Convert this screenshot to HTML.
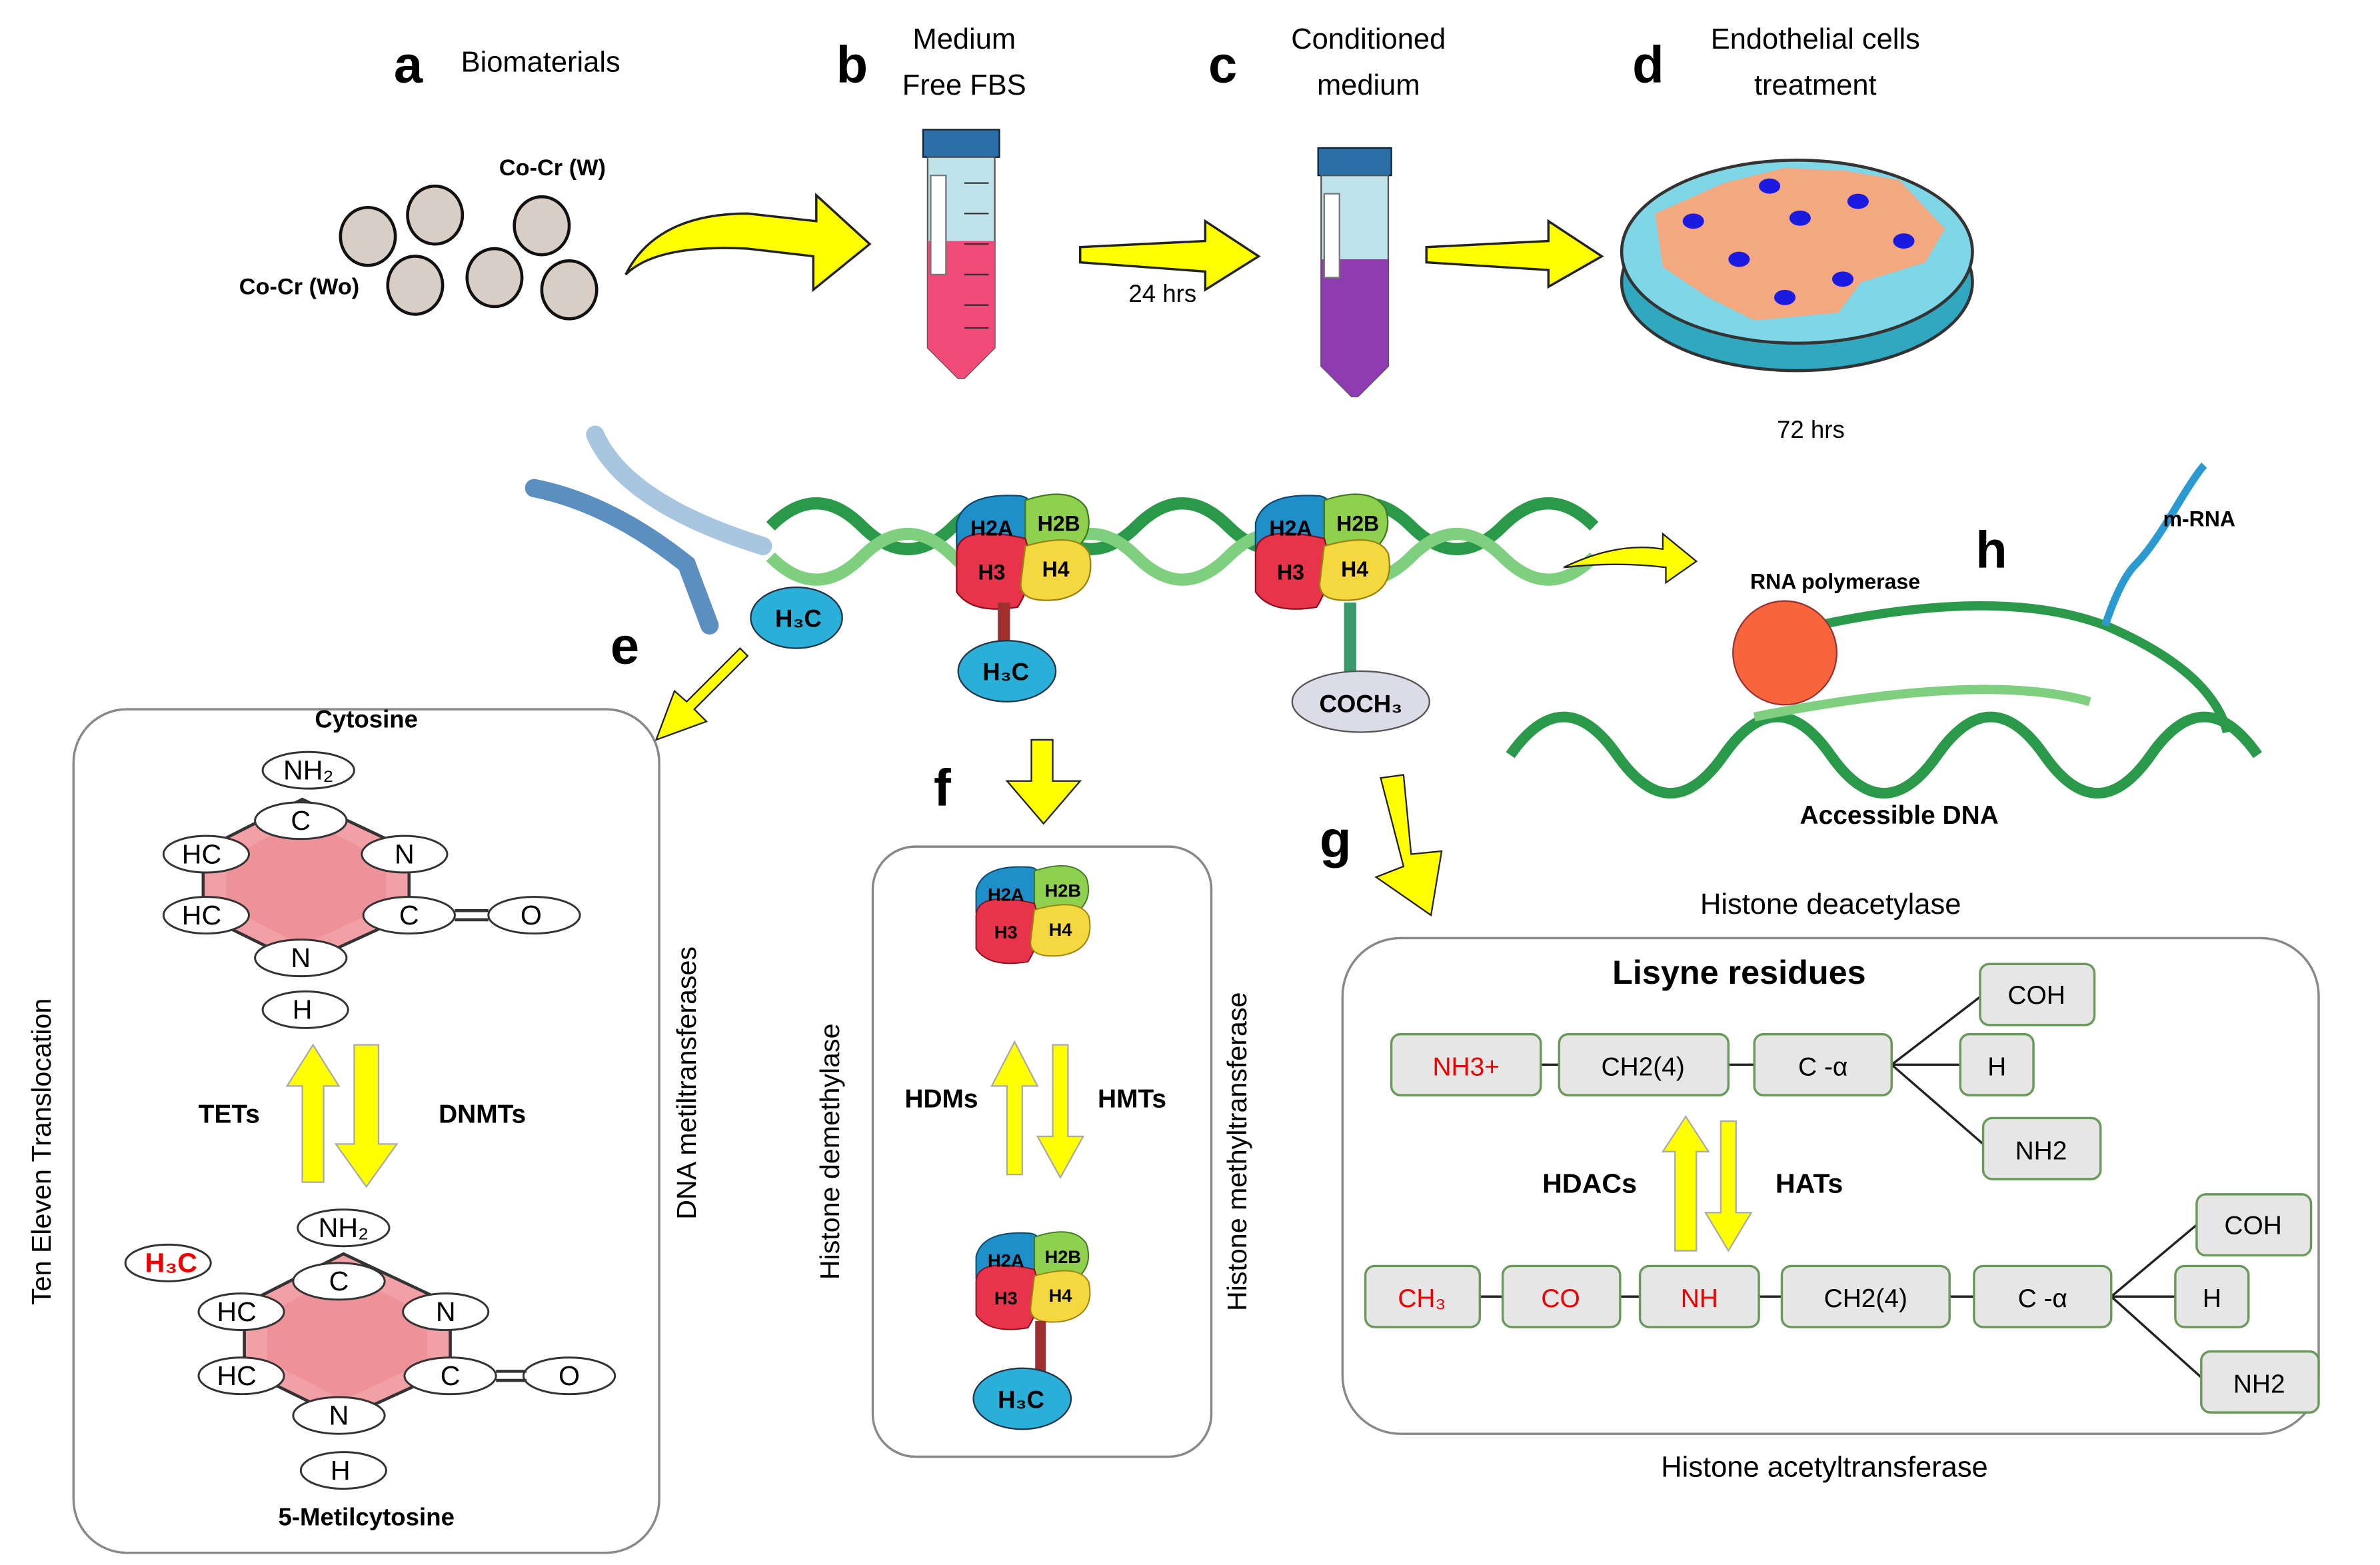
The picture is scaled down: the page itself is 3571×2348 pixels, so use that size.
<!DOCTYPE html>
<html><head><meta charset="utf-8"><style>
html,body{margin:0;padding:0;background:#fff}
svg{display:block}
text{font-family:"Liberation Sans",sans-serif}
</style></head><body>
<svg width="3571" height="2348" viewBox="0 0 1560 1026" xmlns="http://www.w3.org/2000/svg">
<defs>
<linearGradient id="yl" x1="0" x2="0" y1="0" y2="1"><stop offset="0" stop-color="#ffff00"/><stop offset="1" stop-color="#eeee00"/></linearGradient>
<g id="nuc">
<path d="M-45,-25 q5,-20 40,-18 q15,0 10,30 l-50,5z" fill="#1e8fc8" stroke="#0a4a70"/>
<path d="M0,-40 q30,-10 40,5 q5,15 -5,25 l-35,0z" fill="#8fd14f" stroke="#3f7a20"/>
<path d="M-45,-5 q0,-20 45,-10 q8,25 -5,45 q-30,5 -40,-10z" fill="#e8344a" stroke="#8a1020"/>
<path d="M0,-10 q35,-10 42,5 q5,25 -20,30 q-25,3 -25,-10z" fill="#f5d840" stroke="#9a8410"/>
<text x="-22" y="-17" font-size="14" font-weight="bold" text-anchor="middle">H2A</text>
<text x="22" y="-20" font-size="14" font-weight="bold" text-anchor="middle">H2B</text>
<text x="-22" y="12" font-size="14" font-weight="bold" text-anchor="middle">H3</text>
<text x="20" y="10" font-size="14" font-weight="bold" text-anchor="middle">H4</text>
</g>
<g id="ring">
<polygon points="0,-48 70,-15 70,28 0,60 -65,28 -65,-15" fill="#f2a0a6" stroke="#333" stroke-width="2"/>
<polygon points="0,-36 55,-8 55,22 0,48 -50,22 -50,-8" fill="#ec8c94" opacity="0.7"/>
</g>
</defs>

<!-- top labels -->
<text x="258" y="54" font-size="34" font-weight="bold">a</text>
<text x="302" y="47" font-size="19">Biomaterials</text>
<text x="548" y="54" font-size="34" font-weight="bold">b</text>
<text x="632" y="32" font-size="19" text-anchor="middle">Medium</text>
<text x="632" y="62" font-size="19" text-anchor="middle">Free FBS</text>
<text x="792" y="54" font-size="34" font-weight="bold">c</text>
<text x="897" y="32" font-size="19" text-anchor="middle">Conditioned</text>
<text x="897" y="62" font-size="19" text-anchor="middle">medium</text>
<text x="1070" y="54" font-size="34" font-weight="bold">d</text>
<text x="1190" y="32" font-size="19" text-anchor="middle">Endothelial cells</text>
<text x="1190" y="62" font-size="19" text-anchor="middle">treatment</text>

<text x="362" y="115" font-size="15" font-weight="bold" text-anchor="middle">Co-Cr (W)</text>
<text x="196" y="193" font-size="15" font-weight="bold" text-anchor="middle">Co-Cr (Wo)</text>
<g fill="#d8cec6" stroke="#111" stroke-width="2">
<ellipse cx="241" cy="155" rx="18" ry="19"/><ellipse cx="285" cy="141" rx="18" ry="19"/>
<ellipse cx="355" cy="148" rx="18" ry="19"/><ellipse cx="272" cy="187" rx="18" ry="19"/>
<ellipse cx="324" cy="182" rx="18" ry="19"/><ellipse cx="373" cy="190" rx="18" ry="19"/>
</g>
<path d="M410,180 Q430,140 490,140 L535,145 L535,128 L570,160 L533,190 L533,168 L490,163 Q430,160 410,180z" fill="#ffff00" stroke="#222" stroke-width="1.5"/>

<!-- tube b -->
<rect x="605" y="85" width="50" height="18" fill="#2a6fa8" stroke="#123"/>
<path d="M608,103 L652,103 L652,228 L632,248 L628,248 L608,228z" fill="#bfe3ea" stroke="#555"/>
<path d="M608,158 L652,158 L652,228 L632,248 L628,248 L608,228z" fill="#f04a78"/>
<rect x="610" y="115" width="10" height="65" fill="#fff" stroke="#777"/>
<g stroke="#333" stroke-width="1"><line x1="632" y1="120" x2="648" y2="120"/><line x1="632" y1="140" x2="648" y2="140"/><line x1="632" y1="160" x2="648" y2="160"/><line x1="632" y1="180" x2="648" y2="180"/><line x1="632" y1="200" x2="648" y2="200"/><line x1="632" y1="215" x2="648" y2="215"/></g>

<polygon points="708,162 790,158 790,145 825,168 790,190 790,178 708,172" fill="#ffff00" stroke="#222" stroke-width="1.5"/>
<text x="762" y="198" font-size="16" text-anchor="middle">24 hrs</text>

<!-- tube c -->
<rect x="864" y="97" width="48" height="18" fill="#2a6fa8" stroke="#123"/>
<path d="M866,115 L910,115 L910,240 L890,260 L886,260 L866,240z" fill="#bfe3ea" stroke="#555"/>
<path d="M866,170 L910,170 L910,240 L890,260 L886,260 L866,240z" fill="#8e3db0"/>
<rect x="868" y="127" width="10" height="55" fill="#fff" stroke="#777"/>

<polygon points="935,162 1015,158 1015,145 1050,168 1015,188 1015,177 935,172" fill="#ffff00" stroke="#222" stroke-width="1.5"/>

<!-- petri -->
<ellipse cx="1178" cy="185" rx="115" ry="58" fill="#2fa8c0" stroke="#333" stroke-width="2"/>
<ellipse cx="1178" cy="165" rx="115" ry="60" fill="#7fd6e6" stroke="#333" stroke-width="2"/>
<path d="M1085,140 L1130,120 L1170,110 L1210,112 L1245,118 L1275,150 L1262,172 L1220,185 L1205,205 L1150,210 L1120,195 L1090,175z" fill="#f4a880"/>
<g fill="#1a1ae0"><ellipse cx="1110" cy="145" rx="7" ry="5"/><ellipse cx="1160" cy="122" rx="7" ry="5"/><ellipse cx="1218" cy="132" rx="7" ry="5"/><ellipse cx="1180" cy="143" rx="7" ry="5"/><ellipse cx="1140" cy="170" rx="7" ry="5"/><ellipse cx="1208" cy="183" rx="7" ry="5"/><ellipse cx="1248" cy="158" rx="7" ry="5"/><ellipse cx="1170" cy="195" rx="7" ry="5"/></g>
<text x="1187" y="287" font-size="16" text-anchor="middle">72 hrs</text>

<!-- chromosome -->
<path d="M350,320 Q400,330 450,370 L465,410" stroke="#5b8fbf" stroke-width="12" fill="none" stroke-linecap="round"/>
<path d="M390,285 Q410,330 500,358" stroke="#a8c6e0" stroke-width="12" fill="none" stroke-linecap="round"/>

<!-- DNA helix -->
<path d="M505,345 q30,-30 60,0 t60,0 t60,0 t60,0 t60,0 t60,0 t60,0 t60,0 t60,0" stroke="#2a9a4a" stroke-width="8" fill="none"/>
<path d="M505,365 q30,30 60,0 t60,0 t60,0 t60,0 t60,0 t60,0 t60,0 t60,0 t60,0" stroke="#7ed07e" stroke-width="8" fill="none"/>
<use href="#nuc" x="672" y="368"/>
<use href="#nuc" x="868" y="368"/>
<line x1="658" y1="395" x2="658" y2="425" stroke="#a03030" stroke-width="8"/>
<line x1="885" y1="395" x2="885" y2="445" stroke="#3a9a6a" stroke-width="8"/>
<ellipse cx="522" cy="405" rx="30" ry="20" fill="#2ab0d8" stroke="#234"/>
<text x="508" y="411" font-size="16" font-weight="bold">H₃C</text>
<ellipse cx="660" cy="440" rx="32" ry="20" fill="#2ab0d8" stroke="#234"/>
<text x="644" y="446" font-size="16" font-weight="bold">H₃C</text>
<ellipse cx="892" cy="460" rx="45" ry="20" fill="#dcdce8" stroke="#555"/>
<text x="892" y="467" font-size="16" font-weight="bold" text-anchor="middle">COCH₃</text>

<text x="400" y="435" font-size="34" font-weight="bold">e</text>
<text x="612" y="528" font-size="34" font-weight="bold">f</text>
<text x="865" y="562" font-size="34" font-weight="bold">g</text>
<text x="1295" y="372" font-size="34" font-weight="bold">h</text>

<path d="M1025,372 Q1060,355 1090,360 L1090,350 L1112,368 L1092,382 L1092,372 Q1060,368 1025,372z" fill="#ffff00" stroke="#222"/>

<!-- transcription -->
<path d="M990,495 q35,-50 70,0 t70,0 t70,0 t70,0 t70,0 t70,0 t70,0" stroke="#2a9a4a" stroke-width="7" fill="none"/>
<path d="M1150,420 Q1300,380 1380,410 Q1450,440 1460,480" stroke="#2a9a4a" stroke-width="6" fill="none"/>
<path d="M1150,470 Q1300,440 1370,460" stroke="#7ed07e" stroke-width="6" fill="none"/>
<path d="M1380,410 q10,-30 20,-40 t25,-35 t20,-30" stroke="#2a9ad0" stroke-width="5" fill="none"/>
<circle cx="1170" cy="428" r="34" fill="#f8643c" stroke="#933"/>
<text x="1203" y="386" font-size="14" font-weight="bold" text-anchor="middle">RNA polymerase</text>
<text x="1418" y="345" font-size="14" font-weight="bold">m-RNA</text>
<text x="1245" y="540" font-size="17" font-weight="bold" text-anchor="middle">Accessible DNA</text>

<!-- arrows down -->
<polygon points="490,430 455,465 463,473 430,485 442,453 450,460 485,425" fill="#ffff00" stroke="#222"/>
<polygon points="676,485 690,485 690,512 708,512 684,540 660,512 676,512" fill="#ffff00" stroke="#222"/>
<polygon points="905,510 920,508 925,560 945,558 938,600 902,575 920,568" fill="#ffff00" stroke="#222"/>

<!-- box e -->
<rect x="48" y="465" width="384" height="553" rx="35" fill="none" stroke="#888" stroke-width="1.5"/>
<text x="240" y="477" font-size="16" font-weight="bold" text-anchor="middle">Cytosine</text>
<use href="#ring" x="198" y="572"/>
<g fill="#fff" stroke="#333" stroke-width="1.3">
<ellipse cx="202" cy="505" rx="30" ry="12"/><ellipse cx="197" cy="538" rx="30" ry="12"/>
<ellipse cx="135" cy="560" rx="28" ry="12"/><ellipse cx="265" cy="560" rx="28" ry="12"/>
<ellipse cx="135" cy="600" rx="28" ry="12"/><ellipse cx="268" cy="600" rx="30" ry="12"/>
<ellipse cx="350" cy="600" rx="30" ry="12"/><ellipse cx="197" cy="628" rx="30" ry="12"/>
<ellipse cx="200" cy="662" rx="28" ry="12"/>
</g>
<g font-size="18" text-anchor="middle"><text x="202" y="511">NH₂</text><text x="197" y="544">C</text><text x="132" y="566">HC</text><text x="265" y="566">N</text><text x="132" y="606">HC</text><text x="268" y="606">C</text><text x="348" y="606">O</text><text x="197" y="634">N</text><text x="198" y="668">H</text></g>
<line x1="298" y1="597" x2="320" y2="597" stroke="#333" stroke-width="2"/><line x1="298" y1="603" x2="320" y2="603" stroke="#333" stroke-width="2"/>

<use href="#ring" x="225" y="870"/>
<g fill="#fff" stroke="#333" stroke-width="1.3">
<ellipse cx="225" cy="805" rx="30" ry="12"/><ellipse cx="222" cy="840" rx="30" ry="12"/>
<ellipse cx="110" cy="828" rx="28" ry="12"/>
<ellipse cx="158" cy="860" rx="28" ry="12"/><ellipse cx="292" cy="860" rx="28" ry="12"/>
<ellipse cx="158" cy="902" rx="28" ry="12"/><ellipse cx="295" cy="902" rx="30" ry="12"/>
<ellipse cx="373" cy="902" rx="30" ry="12"/><ellipse cx="222" cy="928" rx="30" ry="12"/>
<ellipse cx="225" cy="964" rx="28" ry="12"/>
</g>
<g font-size="18" text-anchor="middle"><text x="225" y="811">NH₂</text><text x="222" y="846">C</text><text x="112" y="834" fill="#e00" font-weight="bold">H₃C</text><text x="155" y="866">HC</text><text x="292" y="866">N</text><text x="155" y="908">HC</text><text x="295" y="908">C</text><text x="373" y="908">O</text><text x="222" y="934">N</text><text x="223" y="970">H</text></g>
<line x1="325" y1="899" x2="345" y2="899" stroke="#333" stroke-width="2"/><line x1="325" y1="905" x2="345" y2="905" stroke="#333" stroke-width="2"/>
<text x="240" y="1000" font-size="16" font-weight="bold" text-anchor="middle">5-Metilcytosine</text>

<polygon points="205,685 222,712 212,712 212,775 198,775 198,712 188,712" fill="#ffff00" stroke="#aaa"/>
<polygon points="232,685 248,685 248,750 260,750 240,778 220,750 232,750" fill="#ffff00" stroke="#aaa"/>
<text x="150" y="736" font-size="17" font-weight="bold" text-anchor="middle">TETs</text>
<text x="316" y="736" font-size="17" font-weight="bold" text-anchor="middle">DNMTs</text>
<text transform="translate(33,755) rotate(-90)" font-size="18" text-anchor="middle">Ten Eleven Translocation</text>
<text transform="translate(456,710) rotate(-90)" font-size="18" text-anchor="middle">DNA metiltransferases</text>

<!-- box f -->
<rect x="572" y="555" width="222" height="400" rx="28" fill="none" stroke="#888" stroke-width="1.5"/>
<use href="#nuc" x="680" y="608" transform="translate(-136,-122) scale(1.2 1.2) translate(0,0)" opacity="0"/>
<g transform="translate(678,605) scale(0.85)"><use href="#nuc"/></g>
<g transform="translate(678,845) scale(0.85)"><use href="#nuc"/></g>
<line x1="682" y1="866" x2="682" y2="900" stroke="#a03030" stroke-width="7"/>
<ellipse cx="670" cy="917" rx="32" ry="20" fill="#2ab0d8" stroke="#234"/>
<text x="654" y="923" font-size="16" font-weight="bold">H₃C</text>
<polygon points="665,683 680,712 670,712 670,770 660,770 660,712 650,712" fill="#ffff00" stroke="#aaa"/>
<polygon points="690,685 700,685 700,745 710,745 695,772 680,745 690,745" fill="#ffff00" stroke="#aaa"/>
<text x="617" y="726" font-size="17" font-weight="bold" text-anchor="middle">HDMs</text>
<text x="742" y="726" font-size="17" font-weight="bold" text-anchor="middle">HMTs</text>
<text transform="translate(550,755) rotate(-90)" font-size="18" text-anchor="middle">Histone demethylase</text>
<text transform="translate(817,755) rotate(-90)" font-size="18" text-anchor="middle">Histone methyltransferase</text>

<!-- box g -->
<text x="1200" y="599" font-size="19" text-anchor="middle">Histone deacetylase</text>
<text x="1196" y="968" font-size="19" text-anchor="middle">Histone acetyltransferase</text>
<rect x="880" y="615" width="640" height="325" rx="38" fill="none" stroke="#888" stroke-width="1.5"/>
<text x="1140" y="645" font-size="22" font-weight="bold" text-anchor="middle">Lisyne residues</text>
<g stroke="#222" stroke-width="1.5">
<line x1="1010" y1="698" x2="1022" y2="698"/><line x1="1133" y1="698" x2="1150" y2="698"/>
<line x1="1240" y1="698" x2="1300" y2="652"/><line x1="1240" y1="698" x2="1285" y2="698"/><line x1="1240" y1="698" x2="1300" y2="750"/>
<line x1="970" y1="850" x2="985" y2="850"/><line x1="1062" y1="850" x2="1075" y2="850"/><line x1="1153" y1="850" x2="1168" y2="850"/><line x1="1278" y1="850" x2="1294" y2="850"/>
<line x1="1384" y1="850" x2="1440" y2="803"/><line x1="1384" y1="850" x2="1426" y2="850"/><line x1="1384" y1="850" x2="1443" y2="903"/>
</g>
<g fill="#e6e6e6" stroke="#6a9a5a" stroke-width="1.5">
<rect x="912" y="678" width="98" height="40" rx="6"/><rect x="1022" y="678" width="111" height="40" rx="6"/><rect x="1150" y="678" width="90" height="40" rx="6"/>
<rect x="1298" y="632" width="75" height="40" rx="6"/><rect x="1285" y="678" width="48" height="40" rx="6"/><rect x="1300" y="733" width="77" height="40" rx="6"/>
<rect x="895" y="830" width="75" height="40" rx="6"/><rect x="985" y="830" width="77" height="40" rx="6"/><rect x="1075" y="830" width="78" height="40" rx="6"/>
<rect x="1168" y="830" width="110" height="40" rx="6"/><rect x="1294" y="830" width="90" height="40" rx="6"/>
<rect x="1440" y="783" width="75" height="40" rx="6"/><rect x="1426" y="830" width="48" height="40" rx="6"/><rect x="1443" y="886" width="77" height="40" rx="6"/>
</g>
<g font-size="17" text-anchor="middle">
<text x="961" y="705" fill="#e00">NH3+</text><text x="1077" y="705">CH2(4)</text><text x="1195" y="705">C -α</text>
<text x="1335" y="658">COH</text><text x="1309" y="705">H</text><text x="1338" y="760">NH2</text>
<text x="932" y="857" fill="#e00">CH₃</text><text x="1023" y="857" fill="#e00">CO</text><text x="1114" y="857" fill="#e00">NH</text>
<text x="1223" y="857">CH2(4)</text><text x="1339" y="857">C -α</text>
<text x="1477" y="809">COH</text><text x="1450" y="857">H</text><text x="1481" y="913">NH2</text>
</g>
<polygon points="1105,732 1120,755 1112,755 1112,820 1098,820 1098,755 1090,755" fill="#ffff00" stroke="#aaa"/>
<polygon points="1128,735 1138,735 1138,795 1148,795 1133,820 1118,795 1128,795" fill="#ffff00" stroke="#aaa"/>
<text x="1042" y="782" font-size="18" font-weight="bold" text-anchor="middle">HDACs</text>
<text x="1186" y="782" font-size="18" font-weight="bold" text-anchor="middle">HATs</text>
</svg>
</body></html>
